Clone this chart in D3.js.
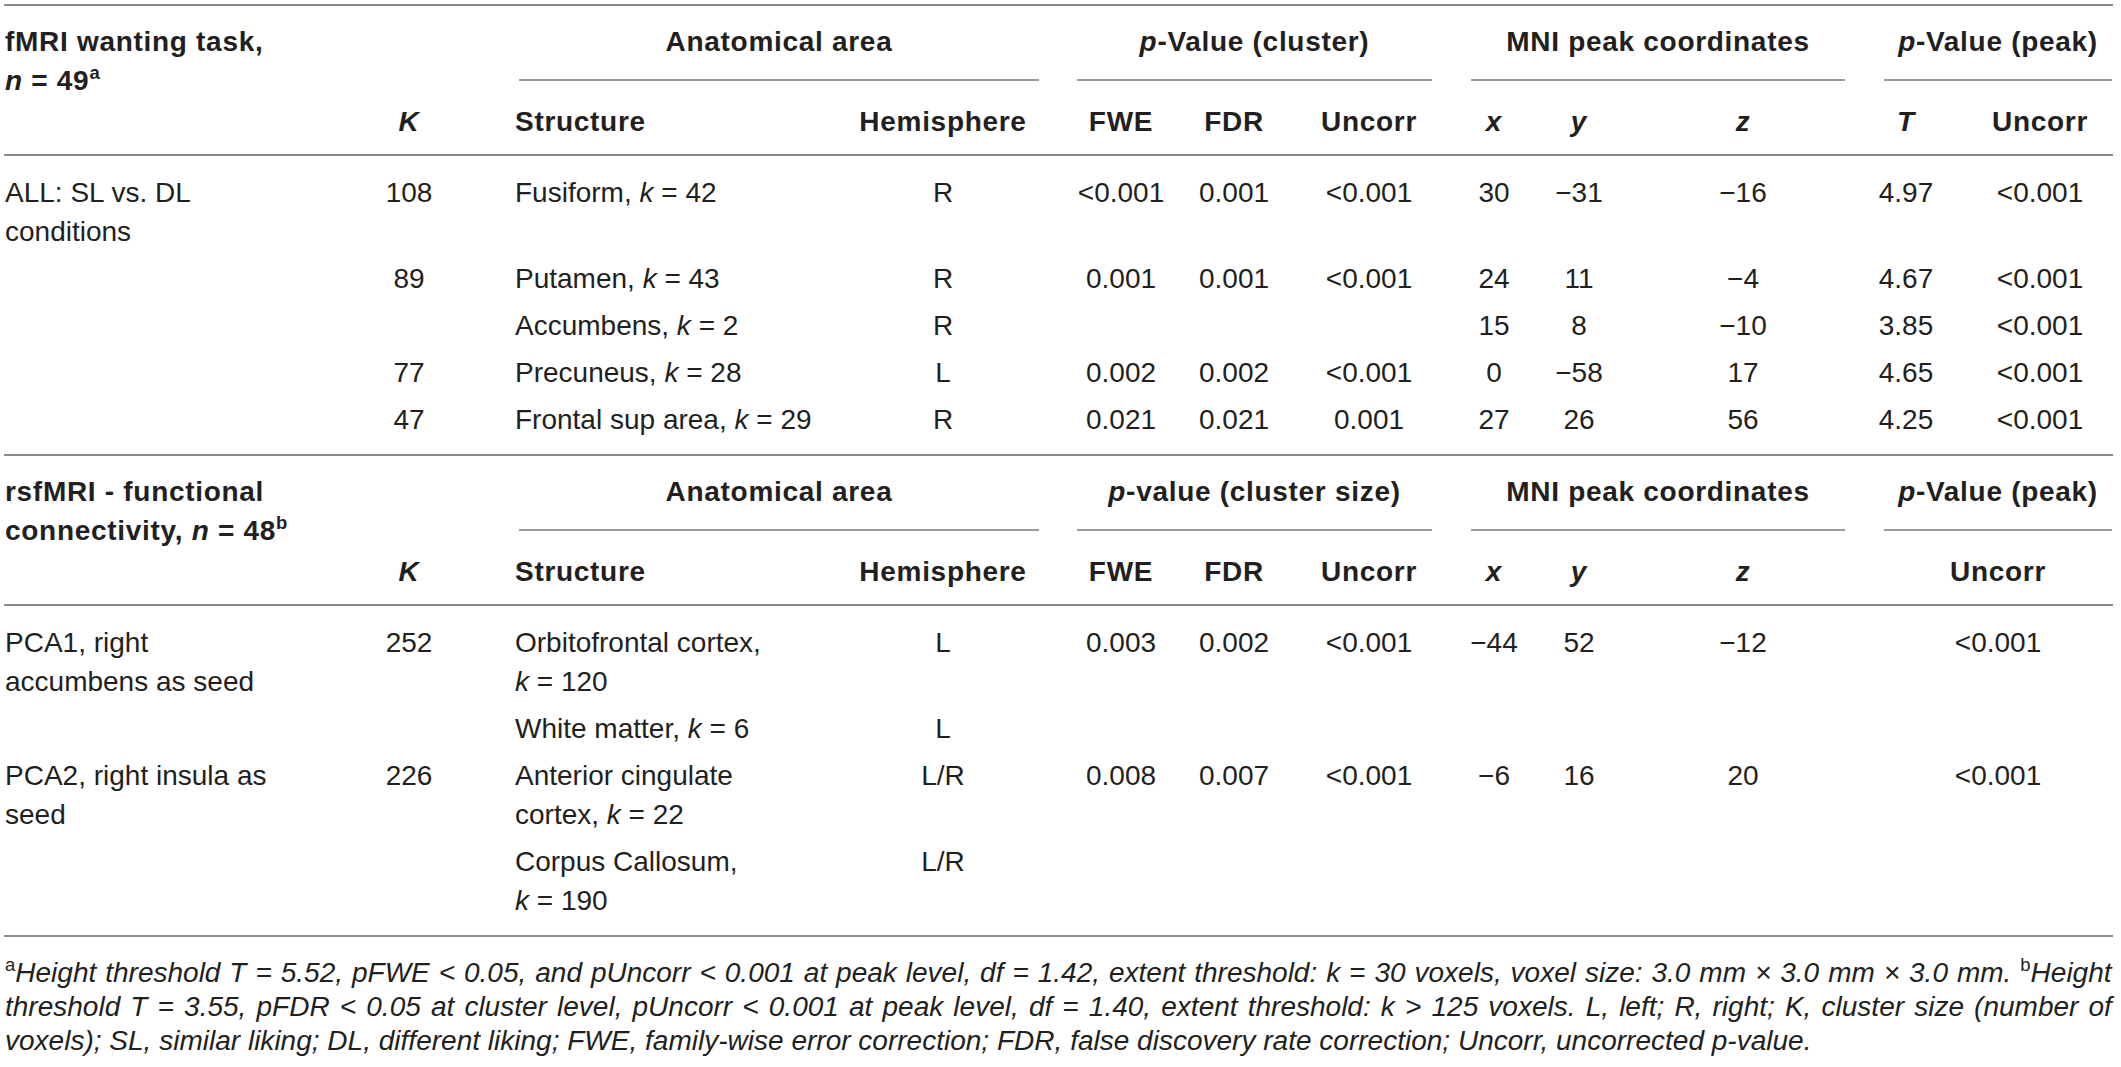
<!DOCTYPE html>
<html><head><meta charset="utf-8">
<script src="https://cdn.jsdelivr.net/npm/d3@7"></script>
<style>html,body{margin:0;padding:0;background:#fff;} svg{display:block;} text{white-space:pre;}</style>
</head><body><svg id="chart"></svg>
<script>
// ---------------- DATA ----------------
// markup: _italic_  ^superscript^ ; \u00A0 = non-breaking space
const section1Title = "fMRI wanting task, _n_\u00A0=\u00A049^a^";
const section2Title = "rsfMRI - functional connectivity, _n_\u00A0=\u00A048^b^";
const groupHeaders1 = ["Anatomical area", "_p_-Value (cluster)", "MNI peak coordinates", "_p_-Value (peak)"];
const groupHeaders2 = ["Anatomical area", "_p_-value (cluster size)", "MNI peak coordinates", "_p_-Value (peak)"];
const colHeaders1 = ["_K_", "Structure", "Hemisphere", "FWE", "FDR", "Uncorr", "_x_", "_y_", "_z_", "_T_", "Uncorr"];
const colHeaders2 = ["_K_", "Structure", "Hemisphere", "FWE", "FDR", "Uncorr", "_x_", "_y_", "_z_", "Uncorr"];

const contrasts1   = ["ALL: SL vs. DL conditions", "", "", "", ""];
const clusterK1    = ["108", "89", "", "77", "47"];
const structures1  = ["Fusiform, _k_\u00A0=\u00A042", "Putamen, _k_\u00A0=\u00A043", "Accumbens, _k_\u00A0=\u00A02", "Precuneus, _k_\u00A0=\u00A028", "Frontal sup area, _k_\u00A0=\u00A029"];
const hemispheres1 = ["R", "R", "R", "L", "R"];
const pFWE1        = ["<0.001", "0.001", "", "0.002", "0.021"];
const pFDR1        = ["0.001", "0.001", "", "0.002", "0.021"];
const pUncorr1     = ["<0.001", "<0.001", "", "<0.001", "0.001"];
const mniX1        = ["30", "24", "15", "0", "27"];
const mniY1        = ["\u221231", "11", "8", "\u221258", "26"];
const mniZ1        = ["\u221216", "\u22124", "\u221210", "17", "56"];
const peakT1       = ["4.97", "4.67", "3.85", "4.65", "4.25"];
const peakUncorr1  = ["<0.001", "<0.001", "<0.001", "<0.001", "<0.001"];

const contrasts2   = ["PCA1, right accumbens as seed", "", "PCA2, right insula as seed", ""];
const clusterK2    = ["252", "", "226", ""];
const structures2  = ["Orbitofrontal cortex, _k_\u00A0=\u00A0120", "White matter, _k_\u00A0=\u00A06", "Anterior cingulate cortex, _k_\u00A0=\u00A022", "Corpus Callosum, _k_\u00A0=\u00A0190"];
const hemispheres2 = ["L", "L", "L/R", "L/R"];
const pFWE2        = ["0.003", "", "0.008", ""];
const pFDR2        = ["0.002", "", "0.007", ""];
const pUncorr2     = ["<0.001", "", "<0.001", ""];
const mniX2        = ["\u221244", "", "\u22126", ""];
const mniY2        = ["52", "", "16", ""];
const mniZ2        = ["\u221212", "", "20", ""];
const peakUncorr2  = ["<0.001", "", "<0.001", ""];

const footnoteLines = [
  "^a^Height threshold T = 5.52, pFWE < 0.05, and pUncorr < 0.001 at peak level, df = 1.42, extent threshold: k = 30 voxels, voxel size: 3.0 mm \u00D7 3.0 mm \u00D7 3.0 mm. ^b^Height",
  "threshold T = 3.55, pFDR < 0.05 at cluster level, pUncorr < 0.001 at peak level, df = 1.40, extent threshold: k > 125 voxels. L, left; R, right; K, cluster size (number of",
  "voxels); SL, similar liking; DL, different liking; FWE, family-wise error correction; FDR, false discovery rate correction; Uncorr, uncorrected p-value."
];

// ---------------- LAYOUT ----------------
const W = 2121, H = 1067;
const FONT = "'Liberation Sans', Arial, Helvetica, sans-serif";
const INK = "#231f20";
const BODY = 28;
const LINE_H = 39, ROW_GAP = 47;
const LEFT = 4, RIGHT = 2113;
const BOLD_SPACING = 0.7;

const svg = d3.select("#chart").attr("width", W).attr("height", H)
  .attr("font-family", FONT).attr("fill", INK);

const colKeys = ["cond", "K", "struct", "hemi", "fwe", "fdr", "unc", "x", "y", "z", "T", "punc", "punc2"];
const colX = d3.scaleOrdinal().domain(colKeys)
  .range([5, 409, 515, 943, 1121, 1234, 1369, 1494, 1579, 1743, 1906, 2040, 1998]);
const colAnchor = k => (k === "cond" || k === "struct") ? "start" : "middle";
const colWrap = {cond: 285, struct: 303, title: 310};

const groupKeys = ["anat", "clus", "mni", "peak"];
const groupSpan = d3.scaleOrdinal().domain(groupKeys)
  .range([[519, 1039], [1077, 1432], [1471, 1845], [1884, 2112]]);

// ---------------- RICH TEXT ----------------
function parse(m) {
  const segs = []; let it = false, sup = false, buf = "";
  const push = () => { if (buf) { segs.push({t: buf, it, sup}); buf = ""; } };
  for (const ch of m) {
    if (ch === "_") { push(); it = !it; }
    else if (ch === "^") { push(); sup = !sup; }
    else buf += ch;
  }
  push();
  return segs;
}
function toWords(segs) {
  const words = [[]];
  segs.forEach(s => {
    s.t.split(" ").forEach((p, i) => {
      if (i > 0) words.push([]);
      if (p) words[words.length - 1].push({t: p, it: s.it, sup: s.sup});
    });
  });
  return words.filter(w => w.length);
}
function fillText(text, words, size, baseItalic) {
  let supOn = false;
  const shift = size * 0.38;
  const flat = [];
  words.forEach((w, i) => { if (i > 0) flat.push({t: " ", it: false, sup: false}); w.forEach(s => flat.push(s)); });
  flat.forEach(s => {
    const ts = text.append("tspan").text(s.t)
      .attr("font-style", (!s.sup && (baseItalic || s.it)) ? "italic" : "normal");
    if (s.sup) {
      ts.attr("font-size", size * 0.66);
      if (!supOn) { ts.attr("dy", -shift); supOn = true; }
    } else if (supOn) { ts.attr("dy", shift); supOn = false; }
  });
}
const measurer = svg.append("text").attr("visibility", "hidden").attr("x", 0).attr("y", -100);
function measure(words, size, weight, baseItalic) {
  measurer.selectAll("*").remove();
  measurer.attr("font-size", size).attr("font-weight", weight)
    .attr("letter-spacing", weight === "bold" ? BOLD_SPACING : 0);
  fillText(measurer, words, size, baseItalic);
  return measurer.node().getComputedTextLength();
}
function wrap(markup, maxW, size, weight) {
  const words = toWords(parse(markup));
  if (!maxW) return [words];
  const lines = []; let cur = [];
  words.forEach(w => {
    const test = cur.concat([w]);
    if (cur.length && measure(test, size, weight, false) > maxW) { lines.push(cur); cur = [w]; }
    else cur = test;
  });
  if (cur.length) lines.push(cur);
  return lines;
}
function drawCell(g, markup, x, anchor, y, maxW, weight) {
  if (!markup) return 0;
  const lines = wrap(markup, maxW, BODY, weight);
  lines.forEach((ln, i) => {
    const t = g.append("text").attr("x", x).attr("y", y + i * LINE_H)
      .attr("text-anchor", anchor).attr("font-size", BODY).attr("font-weight", weight);
    if (weight === "bold") t.attr("letter-spacing", BOLD_SPACING);
    fillText(t, ln, BODY, false);
  });
  return lines.length;
}
function rule(y, color, width, x1 = LEFT, x2 = RIGHT) {
  svg.append("line").attr("x1", x1).attr("x2", x2).attr("y1", y).attr("y2", y)
    .attr("stroke", color).attr("stroke-width", width);
}

// ---------------- SECTIONS ----------------
function drawSection(top, title, groups, colHeads, headKeys, rows) {
  const g = svg.append("g");
  rule(top, "#8c8c8c", 2);
  const hb = top + 46;
  drawCell(g, title, colX("cond"), "start", hb, colWrap.title, "bold");
  groups.forEach((lab, i) => {
    const [a, b] = groupSpan(groupKeys[i]);
    drawCell(g, lab, (a + b) / 2, "middle", hb, null, "bold");
    rule(top + 75, "#7a7a7a", 1.6, a, b);
  });
  const cb = top + 126;
  colHeads.forEach((lab, i) => {
    const k = headKeys[i];
    drawCell(g, lab, colX(k), colAnchor(k), cb, null, "bold");
  });
  const hr = top + 150;
  rule(hr, "#8c8c8c", 2);
  let y = hr + ROW_GAP, lastBase = y;
  rows.forEach(r => {
    let n = 1;
    Object.keys(r).forEach(k => {
      const c = drawCell(g, r[k], colX(k), colAnchor(k), y, colWrap[k], "normal");
      n = Math.max(n, c);
    });
    lastBase = y + (n - 1) * LINE_H;
    y = lastBase + ROW_GAP;
  });
  return lastBase + 26;
}

const rows1 = d3.range(structures1.length).map(i => ({
  cond: contrasts1[i], K: clusterK1[i], struct: structures1[i], hemi: hemispheres1[i],
  fwe: pFWE1[i], fdr: pFDR1[i], unc: pUncorr1[i], x: mniX1[i], y: mniY1[i], z: mniZ1[i],
  T: peakT1[i], punc: peakUncorr1[i]
}));
const rows2 = d3.range(structures2.length).map(i => ({
  cond: contrasts2[i], K: clusterK2[i], struct: structures2[i], hemi: hemispheres2[i],
  fwe: pFWE2[i], fdr: pFDR2[i], unc: pUncorr2[i], x: mniX2[i], y: mniY2[i], z: mniZ2[i],
  punc2: peakUncorr2[i]
}));

const end1 = drawSection(5, section1Title, groupHeaders1, colHeaders1,
  ["K", "struct", "hemi", "fwe", "fdr", "unc", "x", "y", "z", "T", "punc"], rows1);
const end2 = drawSection(end1, section2Title, groupHeaders2, colHeaders2,
  ["K", "struct", "hemi", "fwe", "fdr", "unc", "x", "y", "z", "punc2"], rows2);
rule(end2, "#8c8c8c", 2);

// ---------------- FOOTNOTE ----------------
const fnWords = footnoteLines.map(l => toWords(parse(l)));
let fs = 24;
const w3 = measure(fnWords[2], fs, "normal", true);
fs = fs * 1807 / w3;
const fullW = 2107;
fnWords.forEach((words, i) => {
  const t = svg.append("text").attr("x", 5).attr("y", end2 + 46 + i * 34)
    .attr("font-size", fs).attr("font-weight", "normal");
  fillText(t, words, fs, true);
  if (i < 2) {
    const nat = t.node().getComputedTextLength();
    const spaces = words.length - 1;
    const ws = (fullW - nat) / spaces;
    t.style("word-spacing", ws + "px");
    const after = t.node().getBBox().width;
    if (Math.abs(after - fullW) > 15) {
      t.style("word-spacing", null).attr("textLength", fullW).attr("lengthAdjust", "spacing");
    }
  }
});
measurer.remove();
</script>
</body></html>
